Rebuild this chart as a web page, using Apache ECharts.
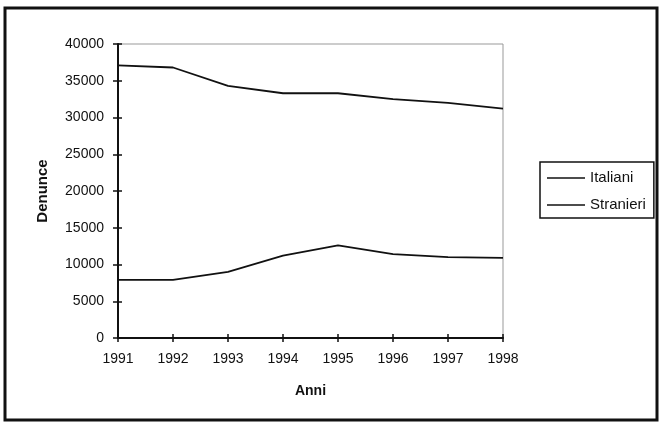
<!DOCTYPE html>
<html><head><meta charset="utf-8">
<script src="https://cdn.jsdelivr.net/npm/echarts@6/dist/echarts.min.js"></script>
<style>html,body{margin:0;padding:0;background:#fff}#c{width:663px;height:426px}</style>
</head><body><div id="c"></div>
<script>
var years = ['1991','1992','1993','1994','1995','1996','1997','1998'];
var italiani = [37100, 36800, 34300, 33300, 33300, 32500, 32000, 31200];
var stranieri = [7900, 7900, 9000, 11200, 12600, 11400, 11000, 10900];
var seriesNames = ['Italiani', 'Stranieri'];
var yTicks = [0, 5000, 10000, 15000, 20000, 25000, 30000, 35000, 40000];

var chart = echarts.init(document.getElementById('c'), null, {renderer: 'canvas'});
var font = 'Liberation Sans, Arial, sans-serif';
var black = '#111';
function plain(v) { return String(v); }
chart.setOption({
  animation: false,
  backgroundColor: '#fff',
  graphic: [{
    type: 'rect', shape: {x: 5, y: 8, width: 652, height: 412},
    style: {fill: 'none', stroke: black, lineWidth: 3}, z: 0
  }],
  grid: {left: 118, top: 44, right: 160, bottom: 88, show: true,
         borderColor: '#999', borderWidth: 1, backgroundColor: '#fff'},
  legend: {
    orient: 'vertical', left: 540, top: 162,
    data: seriesNames,
    icon: 'rect', itemWidth: 38, itemHeight: 1.5, itemGap: 11,
    padding: [8, 8, 5, 7],
    borderColor: black, borderWidth: 1.5, borderRadius: 0,
    textStyle: {fontFamily: font, fontSize: 15, lineHeight: 16, color: black}
  },
  xAxis: [{
    type: 'category', data: years, boundaryGap: false,
    name: 'Anni', nameLocation: 'middle', nameGap: 46,
    nameTextStyle: {fontFamily: font, fontSize: 14, fontWeight: 'bold', color: black},
    axisLine: {lineStyle: {color: black, width: 2}},
    axisTick: {show: true, alignWithLabel: true, length: 4, lineStyle: {color: black, width: 1.5}},
    axisLabel: {fontFamily: font, fontSize: 14, color: black, margin: 14},
    splitLine: {show: false}
  }, {
    type: 'category', data: years, boundaryGap: false, position: 'bottom',
    axisLine: {show: false},
    axisTick: {show: true, inside: true, alignWithLabel: true, length: 4, lineStyle: {color: black, width: 1.5}},
    axisLabel: {show: false}, splitLine: {show: false}
  }],
  yAxis: [{
    type: 'value', min: yTicks[0], max: yTicks[yTicks.length - 1], interval: 5000,
    name: 'Denunce', nameLocation: 'middle', nameGap: 68, nameRotate: 90,
    nameTextStyle: {fontFamily: font, fontSize: 15, fontWeight: 'bold', color: black},
    axisLine: {show: true, lineStyle: {color: black, width: 2}},
    axisTick: {show: true, length: 5, lineStyle: {color: black, width: 1.5}},
    axisLabel: {fontFamily: font, fontSize: 14, color: black, margin: 14, formatter: plain},
    splitLine: {show: false}
  }, {
    type: 'value', min: yTicks[0], max: yTicks[yTicks.length - 1], interval: 5000, position: 'left',
    axisLine: {show: false},
    axisTick: {show: true, inside: true, length: 4, lineStyle: {color: black, width: 1.5}},
    axisLabel: {show: false}, splitLine: {show: false}
  }],
  series: [
    {name: seriesNames[0], type: 'line', data: italiani, symbol: 'none',
     lineStyle: {color: black, width: 1.8}, itemStyle: {color: black}},
    {name: seriesNames[1], type: 'line', data: stranieri, symbol: 'none',
     lineStyle: {color: black, width: 1.8}, itemStyle: {color: black}}
  ]
});
</script></body></html>
